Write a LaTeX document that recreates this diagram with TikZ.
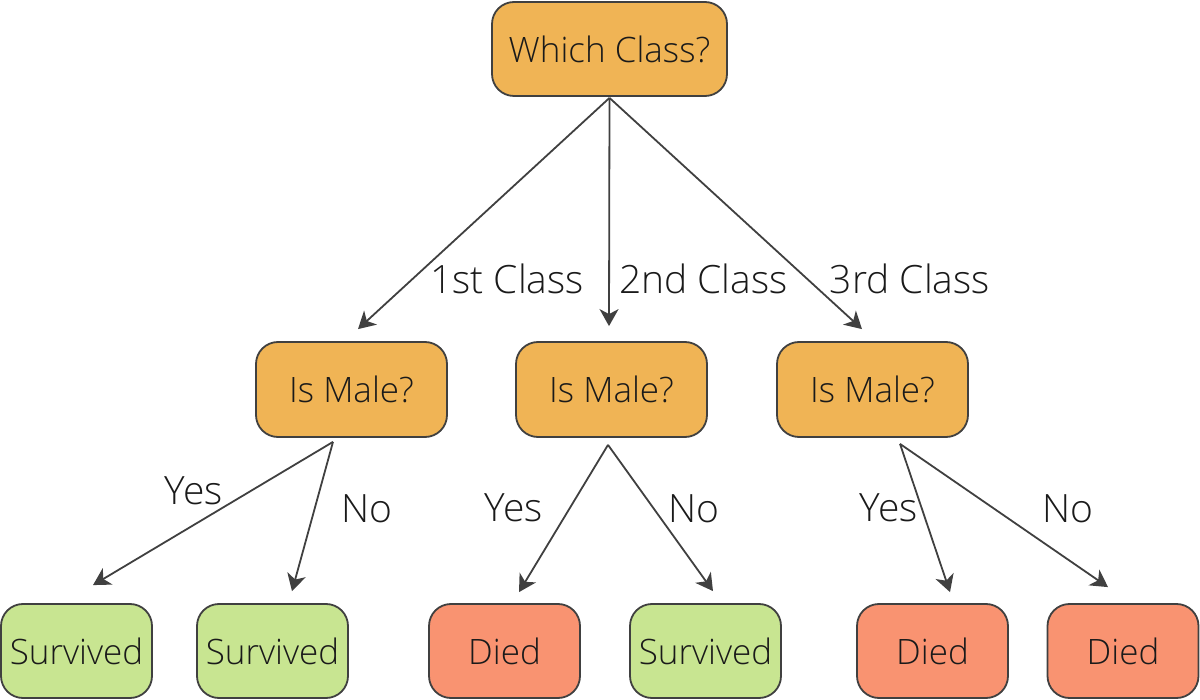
\documentclass[tikz,border=0pt]{standalone}
\usepackage{fontspec}
\setmainfont{Open Sans}[UprightFont=* Light]
\usetikzlibrary{arrows.meta}
\definecolor{qorange}{HTML}{F0B455}
\definecolor{qgreen}{HTML}{C8E591}
\definecolor{qred}{HTML}{F99371}
\definecolor{qline}{HTML}{404040}
\definecolor{qtext}{HTML}{1A1A1A}
\tikzset{
  box/.style={draw=qline, line width=1.8pt, rounded corners=22pt, text=qtext,
    font=\fontsize{35}{40}\selectfont, inner sep=0pt, anchor=center},
  qnode/.style={box, fill=qorange, minimum width=235pt, minimum height=94pt},
  mnode/.style={box, fill=qorange, minimum width=191pt, minimum height=95pt},
  surv/.style={box, fill=qgreen, minimum width=151pt, minimum height=94pt},
  died/.style={box, fill=qred, minimum width=151pt, minimum height=94pt},
  arr/.style={draw=qline, line width=1.8pt, -{Stealth[length=17pt,width=19pt,inset=5pt]}},
  lbl/.style={font=\fontsize{39}{44}\selectfont, text=qtext, anchor=base, inner sep=0pt},
}
\begin{document}
\begin{tikzpicture}[x=1pt,y=-1pt]
\useasboundingbox (0,0) rectangle (1200,700);
\node[qnode] (top) at (609.5,49) {Which Class?};
\node[mnode] (m1) at (351.5,389.5) {Is Male?};
\node[mnode] (m2) at (611.5,389.5) {Is Male?};
\node[mnode] (m3) at (872.5,389.5) {Is Male?};
\node[surv] (l1) at (76.5,651) {Survived};
\node[surv] (l2) at (272.5,651) {Survived};
\node[died] (l3) at (504.5,651) {Died};
\node[surv] (l4) at (705.5,651) {Survived};
\node[died] (l5) at (932.5,651) {Died};
\node[died] (l6) at (1123,651) {Died};
% connectors
\draw[arr] ([yshift=-1pt]top.south) -- ([xshift=6.5pt,yshift=12pt]m1.north);
\draw[arr] ([yshift=-1pt]top.south) -- ([xshift=-2.5pt,yshift=15pt]m2.north);
\draw[arr] ([yshift=-1pt]top.south) -- ([xshift=-10.5pt,yshift=12pt]m3.north);
\draw[arr] ([xshift=-18.5pt,yshift=-4pt]m1.south) -- ([xshift=16.5pt,yshift=18pt]l1.north);
\draw[arr] ([xshift=-18.5pt,yshift=-4pt]m1.south) -- ([xshift=19.5pt,yshift=12pt]l2.north);
\draw[arr] ([xshift=-3.5pt,yshift=-7pt]m2.south) -- ([xshift=14.5pt,yshift=11pt]l3.north);
\draw[arr] ([xshift=-3.5pt,yshift=-7pt]m2.south) -- ([xshift=7.5pt,yshift=12pt]l4.north);
\draw[arr] ([xshift=27.5pt,yshift=-6pt]m3.south) -- ([xshift=17.5pt,yshift=11pt]l5.north);
\draw[arr] ([xshift=27.5pt,yshift=-6pt]m3.south) -- ([xshift=-15pt,yshift=16pt]l6.north);
% labels
\node[lbl] (c1) at (507,294) {1st Class};
\node[lbl] (c2) at (703.5,294) {2nd Class};
\node[lbl] (c3) at (910,294) {3rd Class};
\node[lbl] (y1) at (194,504) {Yes};
\node[lbl] (n1) at (367,522) {No};
\node[lbl] (y2) at (514,521) {Yes};
\node[lbl] (n2) at (694,522) {No};
\node[lbl] (y3) at (889,521) {Yes};
\node[lbl] (n3) at (1068,522) {No};
\end{tikzpicture}
\end{document}
